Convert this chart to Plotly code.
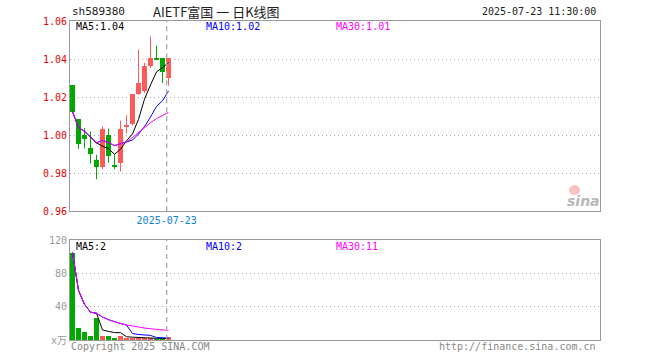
import numpy as np
import pandas as pd
import plotly.graph_objects as go

# ---------------- data ----------------
dates = ["2025-07-01", "2025-07-02", "2025-07-03", "2025-07-04", "2025-07-07",
         "2025-07-08", "2025-07-09", "2025-07-10", "2025-07-11", "2025-07-14",
         "2025-07-15", "2025-07-16", "2025-07-17", "2025-07-18", "2025-07-21",
         "2025-07-22", "2025-07-23"]
opens = [1.0265, 1.0085, 1.0002, 0.9935, 0.9870, 0.9835, 1.0002, 0.9845, 0.9856,
         1.0045, 1.0060, 1.0218, 1.0230, 1.0366, 1.0405, 1.0405, 1.0300]
highs = [1.0265, 1.0085, 1.0038, 1.0020, 0.9897, 1.0046, 1.0035, 0.9897, 1.0076,
         1.0105, 1.0217, 1.0450, 1.0380, 1.0519, 1.0470, 1.0405, 1.0405]
lows = [1.0124, 0.9928, 0.9930, 0.9851, 0.9768, 0.9821, 0.9855, 0.9821, 0.9809,
        1.0010, 1.0050, 1.0212, 1.0221, 1.0353, 1.0396, 1.0274, 1.0260]
closes = [1.0124, 0.9956, 0.9982, 0.9902, 0.9835, 1.0035, 0.9892, 0.9835, 1.0033,
          1.0056, 1.0217, 1.0276, 1.0366, 1.0405, 1.0398, 1.0330, 1.0405]
volumes = [105, 14, 9.5, 5, 27, 5, 5, 2.4, 4.5, 2.5, 2.5, 2.5, 1.8, 2.2, 1.2, 1.2, 3.5]

price_ticks = [0.96, 0.98, 1.00, 1.02, 1.04, 1.06]
vol_ticks = [0, 40, 80, 120]
vol_tick_text = ["x万", "40", "80", "120"]

symbol = "sh589380"
title = "AIETF富国 一 日K线图"
timestamp = "2025-07-23 11:30:00"

# ---------------- styling ----------------
RED = "#ff5a5a"
GREEN = "#00a800"
MONO = "DejaVu Sans Mono, Liberation Mono, Noto Sans CJK SC, monospace"
GRID = "#a8a8a8"
BORDER = "#999999"

W, H = 660, 360
# plot area in page pixels: x 70..600, y 21..340
L, T = 70, 21
R = W - 600
B = H - 340
PW, PH = W - L - R, H - T - B


def px(x):
    return (x - L) / PW


def py(y):
    return (H - B - y) / PH


main_dom = [py(211.3), 1.0]
vol_dom = [0.0, py(240)]

idx = np.arange(len(dates))
o = np.array(opens)
c = np.array(closes)
up = c >= o
colors = [RED if u else GREEN for u in up]

cs = pd.Series(closes)
vs = pd.Series(volumes)


def ma(s, n):
    return s.rolling(n, min_periods=1).mean()


fig = go.Figure()

# candle wicks
for flag, col in ((True, RED), (False, GREEN)):
    xs, ys = [], []
    for i in idx:
        if up[i] == flag:
            xs += [i, i, None]
            ys += [lows[i], highs[i], None]
    fig.add_trace(go.Scatter(x=xs, y=ys, mode="lines", line=dict(color=col, width=1),
                             xaxis="x", yaxis="y", showlegend=False, hoverinfo="skip"))

# candle bodies
fig.add_trace(go.Bar(x=idx, y=np.abs(c - o), base=np.minimum(o, c), width=0.83,
                     marker=dict(color=colors, line=dict(width=0)),
                     xaxis="x", yaxis="y", showlegend=False))

# price MAs
for n, col in ((5, "#000000"), (10, "#0000ff"), (30, "#ff00ff")):
    fig.add_trace(go.Scatter(x=idx, y=ma(cs, n), mode="lines", line=dict(color=col, width=1),
                             xaxis="x", yaxis="y", showlegend=False))

# volume bars
fig.add_trace(go.Bar(x=idx, y=volumes, width=0.83,
                     marker=dict(color=colors, line=dict(width=0)),
                     xaxis="x2", yaxis="y2", showlegend=False))
for n, col in ((5, "#000000"), (10, "#0000ff"), (30, "#ff00ff")):
    fig.add_trace(go.Scatter(x=idx, y=ma(vs, n), mode="lines", line=dict(color=col, width=1),
                             xaxis="x2", yaxis="y2", showlegend=False))

spacing = 6.0
r0 = -2.5 / spacing
xrange = [r0, r0 + PW / spacing]
line_x = idx[-1] - 0.3

axis_common = dict(showline=True, mirror=True, linecolor=BORDER, linewidth=1, zeroline=False,
                   fixedrange=True)

fig.update_layout(
    width=W, height=H,
    margin=dict(l=L, r=R, t=T, b=B, autoexpand=False),
    paper_bgcolor="white", plot_bgcolor="white",
    barmode="overlay", bargap=0,
    showlegend=False,
    xaxis=dict(domain=[0, 1], range=xrange, anchor="y", showgrid=False,
               tickmode="array", tickvals=[line_x], ticktext=[dates[-1]],
               ticks="inside", ticklen=3, tickcolor=BORDER,
               tickfont=dict(family=MONO, size=10, color="#0a84d6"), **axis_common),
    yaxis=dict(domain=main_dom, range=[0.96, 1.06], anchor="x",
               tickmode="array", tickvals=price_ticks,
               ticktext=[f"{v:.2f}" for v in price_ticks],
               tickfont=dict(family=MONO, size=10, color="#ee0000"),
               showgrid=True, gridcolor=GRID, griddash="1px,3px", gridwidth=1, ticks="",
               **axis_common),
    xaxis2=dict(domain=[0, 1], range=xrange, anchor="y2", showgrid=False,
                showticklabels=False, ticks="", **axis_common),
    yaxis2=dict(domain=vol_dom, range=[0, 120], anchor="x2",
                tickmode="array", tickvals=vol_ticks, ticktext=vol_tick_text,
                tickfont=dict(family=MONO, size=10, color="#999999"),
                showgrid=True, gridcolor=GRID, griddash="1px,3px", gridwidth=1, ticks="",
                **axis_common),
)

# dashed crosshair line
for dom in (main_dom, vol_dom):
    fig.add_shape(type="line", xref="x", yref="paper", x0=line_x, x1=line_x,
                  y0=dom[0], y1=dom[1], line=dict(color="#aaaaaa", width=1.3, dash="5px,4px"))

ann = []


def text(x, y, s, color="#000", size=10, anchor="left", family=MONO, **kw):
    ann.append(dict(xref="paper", yref="paper", x=px(x), y=py(y), text=s, showarrow=False,
                    xanchor=anchor, yanchor="middle",
                    font=dict(family=family, size=size, color=color), **kw))


text(70, 12, symbol, "#222", 11)
text(151, 12, title, "#222", 13, family="Noto Sans CJK SC, DejaVu Sans")
text(598, 12, timestamp, "#222", 10, anchor="right")

text(74, 27, f"MA5:{ma(cs, 5).iloc[-1]:.2f}", "#000")
text(204, 27, f"MA10:{ma(cs, 10).iloc[-1]:.2f}", "#0000ff")
text(334, 27, f"MA30:{ma(cs, 30).iloc[-1]:.2f}", "#ff00ff")

text(74, 246, "MA5:2", "#000")
text(204, 246, "MA10:2", "#0000ff")
text(334, 246, "MA30:11", "#ff00ff")

text(69, 346, "Copyright 2025 SINA.COM", "#888", 10)
text(598, 346, "http://finance.sina.com.cn", "#888", 10, anchor="right")

# sina watermark
text(583, 201, "<b><i>sina</i></b>", "#b8b8b8", 14, anchor="center",
     family="DejaVu Sans, Arial")
fig.add_shape(type="circle", xref="paper", yref="paper",
              x0=px(569), x1=px(580), y0=py(195), y1=py(185),
              fillcolor="rgba(240,120,120,0.45)", line=dict(width=0))

fig.update_layout(annotations=ann)

# remove the browser's default 8px page margin so the figure fills the window exactly
fig.write_html("out.html", config={"displayModeBar": False},
               post_script="document.body.style.margin='0';document.body.style.overflow='hidden';")
